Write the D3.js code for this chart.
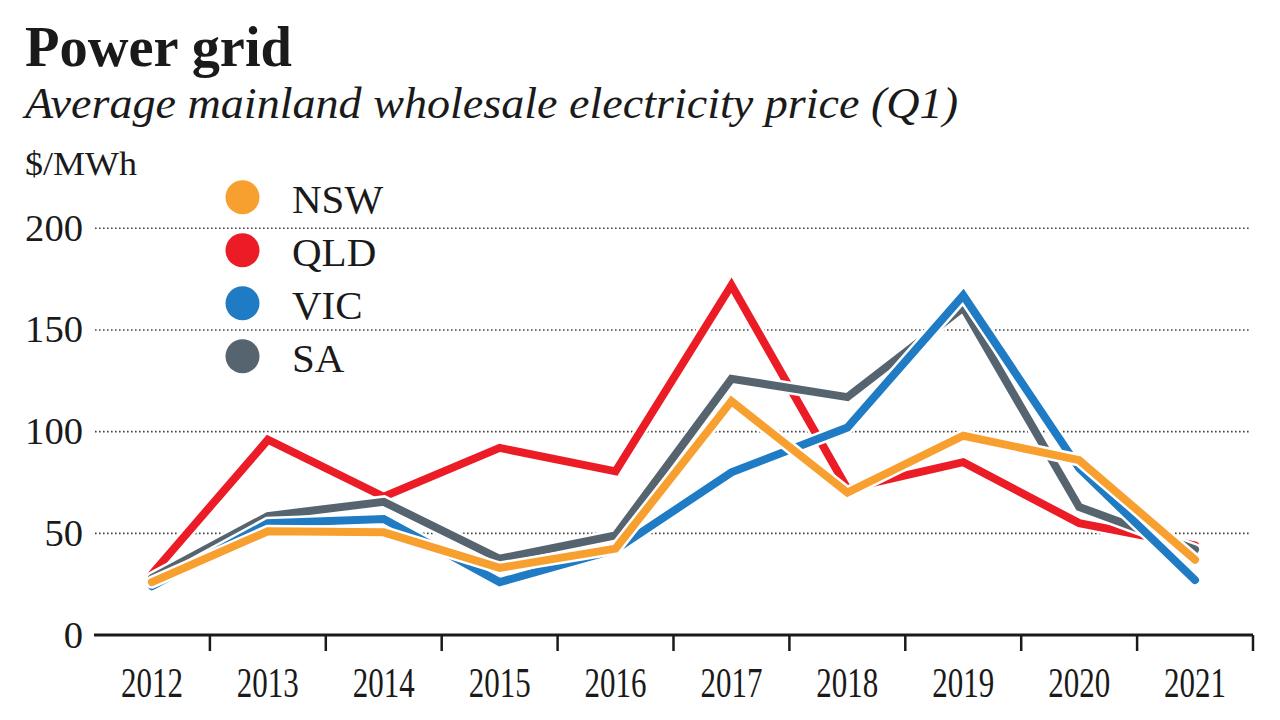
<!DOCTYPE html>
<html>
<head>
<meta charset="utf-8">
<script src="https://cdn.jsdelivr.net/npm/d3@7"></script>
<style>
  html, body { margin: 0; padding: 0; background: #fff; }
  svg { display: block; }
  text { font-family: "Liberation Serif", "DejaVu Serif", serif; fill: #1a1a1a; }
</style>
</head>
<body>
<svg id="chart" width="1280" height="720"></svg>
<script>
// ---- data ----
const years = ["2012","2013","2014","2015","2016","2017","2018","2019","2020","2021"];
const nsw = [26, 51, 50.5, 33, 42.5, 115, 70, 98, 86, 37];
const qld = [30, 96, 68, 92, 80.5, 172, 72, 85, 55, 44];
const vic = [24, 55, 57, 26, 42, 80, 102, 167, 82, 27];
const sa  = [28, 58.5, 65.5, 37.5, 49, 126, 117, 161, 63, 42];
const yTicks = [0, 50, 100, 150, 200];
const seriesNames = ["NSW", "QLD", "VIC", "SA"];
const seriesColors = ["#F7A030", "#EC1C27", "#1F7BC4", "#55646F"];

const series = [
  {name: "NSW", values: nsw},
  {name: "QLD", values: qld},
  {name: "VIC", values: vic},
  {name: "SA",  values: sa}
];
const drawOrder = ["QLD", "SA", "VIC", "NSW"];
const color = d3.scaleOrdinal().domain(seriesNames).range(seriesColors);

const svg = d3.select("#chart");

// ---- scales ----
const x = d3.scaleBand().domain(years).range([94, 1253]).padding(0);
const y = d3.scaleLinear().domain([0, 200]).range([635, 228.3]);
const cx = d => x(d) + x.bandwidth() / 2;

// ---- titles ----
svg.append("text").attr("x", 25).attr("y", 66)
  .attr("font-size", 57).attr("font-weight", "bold")
  .attr("textLength", 267).attr("lengthAdjust", "spacingAndGlyphs")
  .text("Power grid");
svg.append("text").attr("x", 25).attr("y", 118)
  .attr("font-size", 44).attr("font-style", "italic")
  .attr("textLength", 933).attr("lengthAdjust", "spacingAndGlyphs")
  .text("Average mainland wholesale electricity price (Q1)");
svg.append("text").attr("x", 25).attr("y", 175)
  .attr("font-size", 33)
  .attr("textLength", 112).attr("lengthAdjust", "spacingAndGlyphs")
  .text("$/MWh");

// ---- gridlines ----
svg.append("g").selectAll("line").data(yTicks.filter(t => t > 0)).join("line")
  .attr("x1", 95).attr("x2", 1250)
  .attr("y1", d => y(d)).attr("y2", d => y(d))
  .attr("stroke", "#444").attr("stroke-width", 1.6)
  .attr("stroke-dasharray", "1.6,2.4");

// ---- y axis labels ----
const yAxis = svg.append("g").attr("transform", "translate(83,0)")
  .call(d3.axisLeft(y).tickValues(yTicks).tickSize(0).tickPadding(0).tickFormat(d3.format("d")));
yAxis.select(".domain").remove();
yAxis.selectAll("text")
  .attr("font-size", 37).attr("fill", "#1a1a1a")
  .attr("font-family", "Liberation Serif, serif")
  .attr("dy", 12).attr("x", 0)
  .attr("textLength", 58).attr("lengthAdjust", "spacingAndGlyphs")
  .each(function(d) { const n = String(d).length; d3.select(this).attr("textLength", n * 19.3); });

// ---- legend ----
const leg = svg.append("g");
seriesNames.forEach((n, i) => {
  const yy = 197.3 + i * 53;
  leg.append("circle").attr("cx", 242.5).attr("cy", yy).attr("r", 17).attr("fill", color(n));
  leg.append("text").attr("x", 292).attr("y", yy + 15.5)
    .attr("font-size", 41).text(n);
});

// ---- lines ----
const line = d3.line().x((v, i) => cx(years[i])).y(v => y(v));
const lg = svg.append("g");
drawOrder.forEach(name => {
  const s = series.find(d => d.name === name);
  lg.append("path").datum(s.values).attr("d", line)
    .attr("fill", "none").attr("stroke", "#fff").attr("stroke-width", 13)
    .attr("stroke-linejoin", "miter").attr("stroke-linecap", "round");
  lg.append("path").datum(s.values).attr("d", line)
    .attr("fill", "none").attr("stroke", color(name)).attr("stroke-width", 8)
    .attr("stroke-linejoin", "miter").attr("stroke-miterlimit", 10).attr("stroke-linecap", "round");
});

// ---- x axis ----
const xAxis = svg.append("g").attr("transform", "translate(0,635)")
  .call(d3.axisBottom(x).tickSize(0).tickPadding(0));
xAxis.select(".domain").remove();
xAxis.selectAll("text")
  .attr("font-size", 43).attr("fill", "#1a1a1a")
  .attr("font-family", "Liberation Serif, serif")
  .attr("y", 62).attr("dy", 0)
  .attr("textLength", 62).attr("lengthAdjust", "spacingAndGlyphs");

svg.append("line").attr("x1", 94).attr("x2", 1253).attr("y1", 635).attr("y2", 635)
  .attr("stroke", "#1a1a1a").attr("stroke-width", 3);
const bounds = years.slice(1).map(d => x(d)).concat([x(years[years.length - 1]) + x.bandwidth()]);
svg.append("g").selectAll("line").data(bounds).join("line")
  .attr("x1", d => d).attr("x2", d => d).attr("y1", 635).attr("y2", 651)
  .attr("stroke", "#1a1a1a").attr("stroke-width", 2.5);
</script>
</body>
</html>
